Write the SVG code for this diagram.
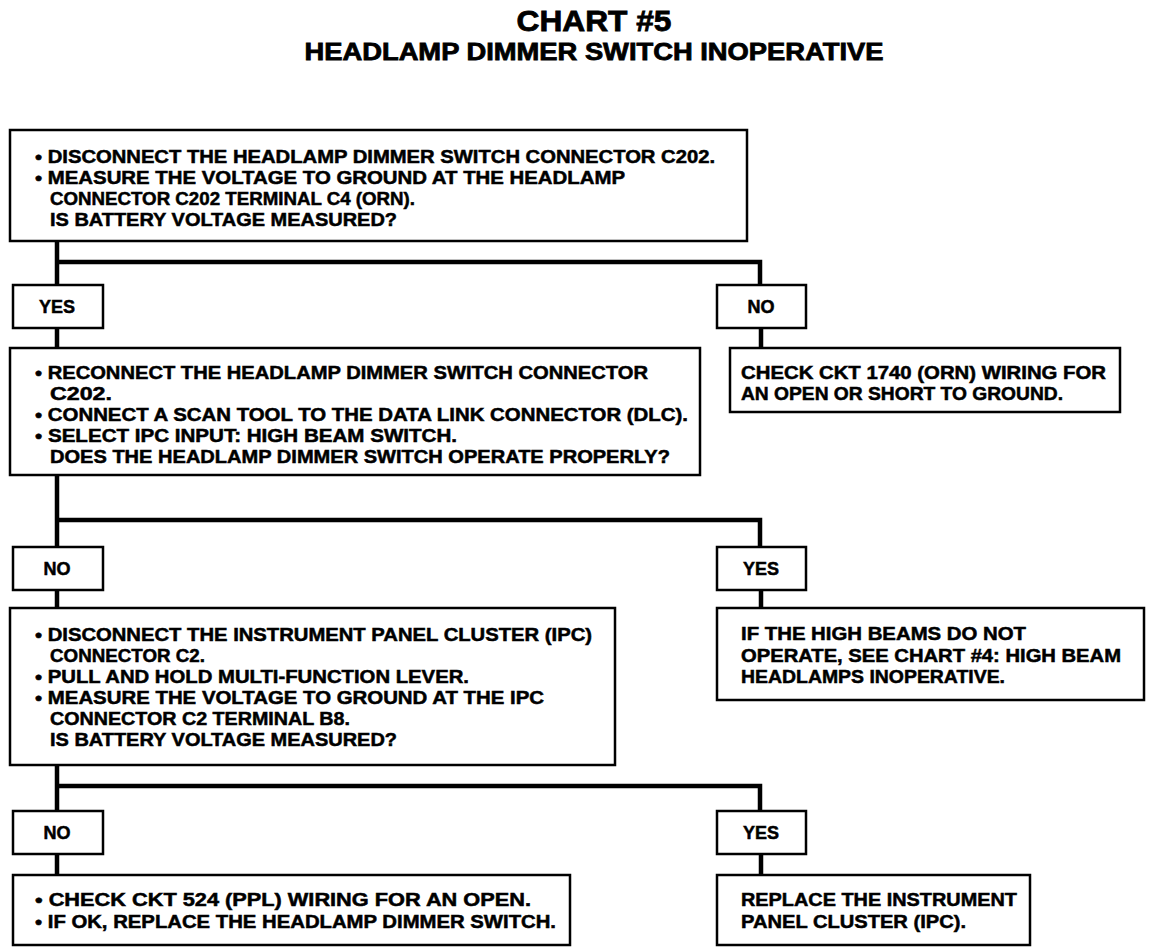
<svg xmlns="http://www.w3.org/2000/svg" width="1152" height="952" viewBox="0 0 1152 952">
<style>
.box{fill:#fff;stroke:#000;stroke-width:2.5}
.t{font-family:"Liberation Sans",Arial,sans-serif;font-weight:bold;font-size:18px;fill:#000;stroke:#000;stroke-width:0.5}
.title{font-family:"Liberation Sans",Arial,sans-serif;font-weight:bold;fill:#000;stroke:#000;stroke-width:0.8;text-anchor:middle}
.conn{fill:none;stroke:#000;stroke-width:4.5;stroke-linecap:square}
.lbl{text-anchor:middle}
</style>
<rect width="1152" height="952" fill="#fff"/>
<g id="title">
<text class="title" x="594" y="31" font-size="30" textLength="155" lengthAdjust="spacingAndGlyphs">CHART #5</text>
<text class="title" x="594" y="60" font-size="24" textLength="579" lengthAdjust="spacingAndGlyphs">HEADLAMP DIMMER SWITCH INOPERATIVE</text>
</g>
<g id="connectors">
<path class="conn" d="M57,241 V285 M57,262 H760 V285"/>
<path class="conn" d="M57,328 V348 M761,328 V348"/>
<path class="conn" d="M57,475 V547 M57,520 H760 V547"/>
<path class="conn" d="M57,590 V608 M761,590 V608"/>
<path class="conn" d="M57,765 V811 M57,786 H760 V811"/>
<path class="conn" d="M57,854 V875 M761,854 V875"/>
</g>
<g id="step1">
<rect class="box" x="10" y="130" width="737" height="111"/>
<text class="t" x="35" y="163" textLength="680" lengthAdjust="spacingAndGlyphs">• DISCONNECT THE HEADLAMP DIMMER SWITCH CONNECTOR C202.</text>
<text class="t" x="35" y="184" textLength="590" lengthAdjust="spacingAndGlyphs">• MEASURE THE VOLTAGE TO GROUND AT THE HEADLAMP</text>
<text class="t" x="50" y="205" textLength="365" lengthAdjust="spacingAndGlyphs">CONNECTOR C202 TERMINAL C4 (ORN).</text>
<text class="t" x="50" y="226" textLength="347" lengthAdjust="spacingAndGlyphs">IS BATTERY VOLTAGE MEASURED?</text>
</g>
<g id="yes1">
<rect class="box" x="13" y="285" width="90" height="43"/>
<text class="t lbl" x="57" y="313">YES</text>
</g>
<g id="no1">
<rect class="box" x="717" y="285" width="89" height="43"/>
<text class="t lbl" x="761" y="313">NO</text>
</g>
<g id="step2">
<rect class="box" x="10" y="348" width="690" height="127"/>
<text class="t" x="35" y="379" textLength="613" lengthAdjust="spacingAndGlyphs">• RECONNECT THE HEADLAMP DIMMER SWITCH CONNECTOR</text>
<text class="t" x="50" y="400" textLength="62" lengthAdjust="spacingAndGlyphs">C202.</text>
<text class="t" x="35" y="421" textLength="653" lengthAdjust="spacingAndGlyphs">• CONNECT A SCAN TOOL TO THE DATA LINK CONNECTOR (DLC).</text>
<text class="t" x="35" y="442" textLength="422" lengthAdjust="spacingAndGlyphs">• SELECT IPC INPUT: HIGH BEAM SWITCH.</text>
<text class="t" x="50" y="463" textLength="620" lengthAdjust="spacingAndGlyphs">DOES THE HEADLAMP DIMMER SWITCH OPERATE PROPERLY?</text>
</g>
<g id="result-no1">
<rect class="box" x="730" y="348" width="390" height="64"/>
<text class="t" x="741" y="379" textLength="365" lengthAdjust="spacingAndGlyphs">CHECK CKT 1740 (ORN) WIRING FOR</text>
<text class="t" x="741" y="400" textLength="322" lengthAdjust="spacingAndGlyphs">AN OPEN OR SHORT TO GROUND.</text>
</g>
<g id="no2">
<rect class="box" x="13" y="547" width="90" height="43"/>
<text class="t lbl" x="57" y="575">NO</text>
</g>
<g id="yes2">
<rect class="box" x="717" y="547" width="89" height="43"/>
<text class="t lbl" x="761" y="575">YES</text>
</g>
<g id="step3">
<rect class="box" x="10" y="608" width="605" height="157"/>
<text class="t" x="35" y="641" textLength="557" lengthAdjust="spacingAndGlyphs">• DISCONNECT THE INSTRUMENT PANEL CLUSTER (IPC)</text>
<text class="t" x="50" y="662" textLength="155" lengthAdjust="spacingAndGlyphs">CONNECTOR C2.</text>
<text class="t" x="35" y="683" textLength="434" lengthAdjust="spacingAndGlyphs">• PULL AND HOLD MULTI-FUNCTION LEVER.</text>
<text class="t" x="35" y="704" textLength="509" lengthAdjust="spacingAndGlyphs">• MEASURE THE VOLTAGE TO GROUND AT THE IPC</text>
<text class="t" x="50" y="725" textLength="300" lengthAdjust="spacingAndGlyphs">CONNECTOR C2 TERMINAL B8.</text>
<text class="t" x="50" y="746" textLength="347" lengthAdjust="spacingAndGlyphs">IS BATTERY VOLTAGE MEASURED?</text>
</g>
<g id="result-yes2">
<rect class="box" x="717" y="608" width="427" height="92"/>
<text class="t" x="741" y="640" textLength="285" lengthAdjust="spacingAndGlyphs">IF THE HIGH BEAMS DO NOT</text>
<text class="t" x="741" y="662" textLength="380" lengthAdjust="spacingAndGlyphs">OPERATE, SEE CHART #4: HIGH BEAM</text>
<text class="t" x="741" y="683" textLength="264" lengthAdjust="spacingAndGlyphs">HEADLAMPS INOPERATIVE.</text>
</g>
<g id="no3">
<rect class="box" x="13" y="811" width="90" height="43"/>
<text class="t lbl" x="57" y="839">NO</text>
</g>
<g id="yes3">
<rect class="box" x="717" y="811" width="89" height="43"/>
<text class="t lbl" x="761" y="839">YES</text>
</g>
<g id="result-no3">
<rect class="box" x="13" y="875" width="557" height="70"/>
<text class="t" x="35" y="906" textLength="496" lengthAdjust="spacingAndGlyphs">• CHECK CKT 524 (PPL) WIRING FOR AN OPEN.</text>
<text class="t" x="35" y="928" textLength="521" lengthAdjust="spacingAndGlyphs">• IF OK, REPLACE THE HEADLAMP DIMMER SWITCH.</text>
</g>
<g id="result-yes3">
<rect class="box" x="717" y="875" width="313" height="70"/>
<text class="t" x="741" y="906" textLength="276" lengthAdjust="spacingAndGlyphs">REPLACE THE INSTRUMENT</text>
<text class="t" x="741" y="928" textLength="225" lengthAdjust="spacingAndGlyphs">PANEL CLUSTER (IPC).</text>
</g>
</svg>
